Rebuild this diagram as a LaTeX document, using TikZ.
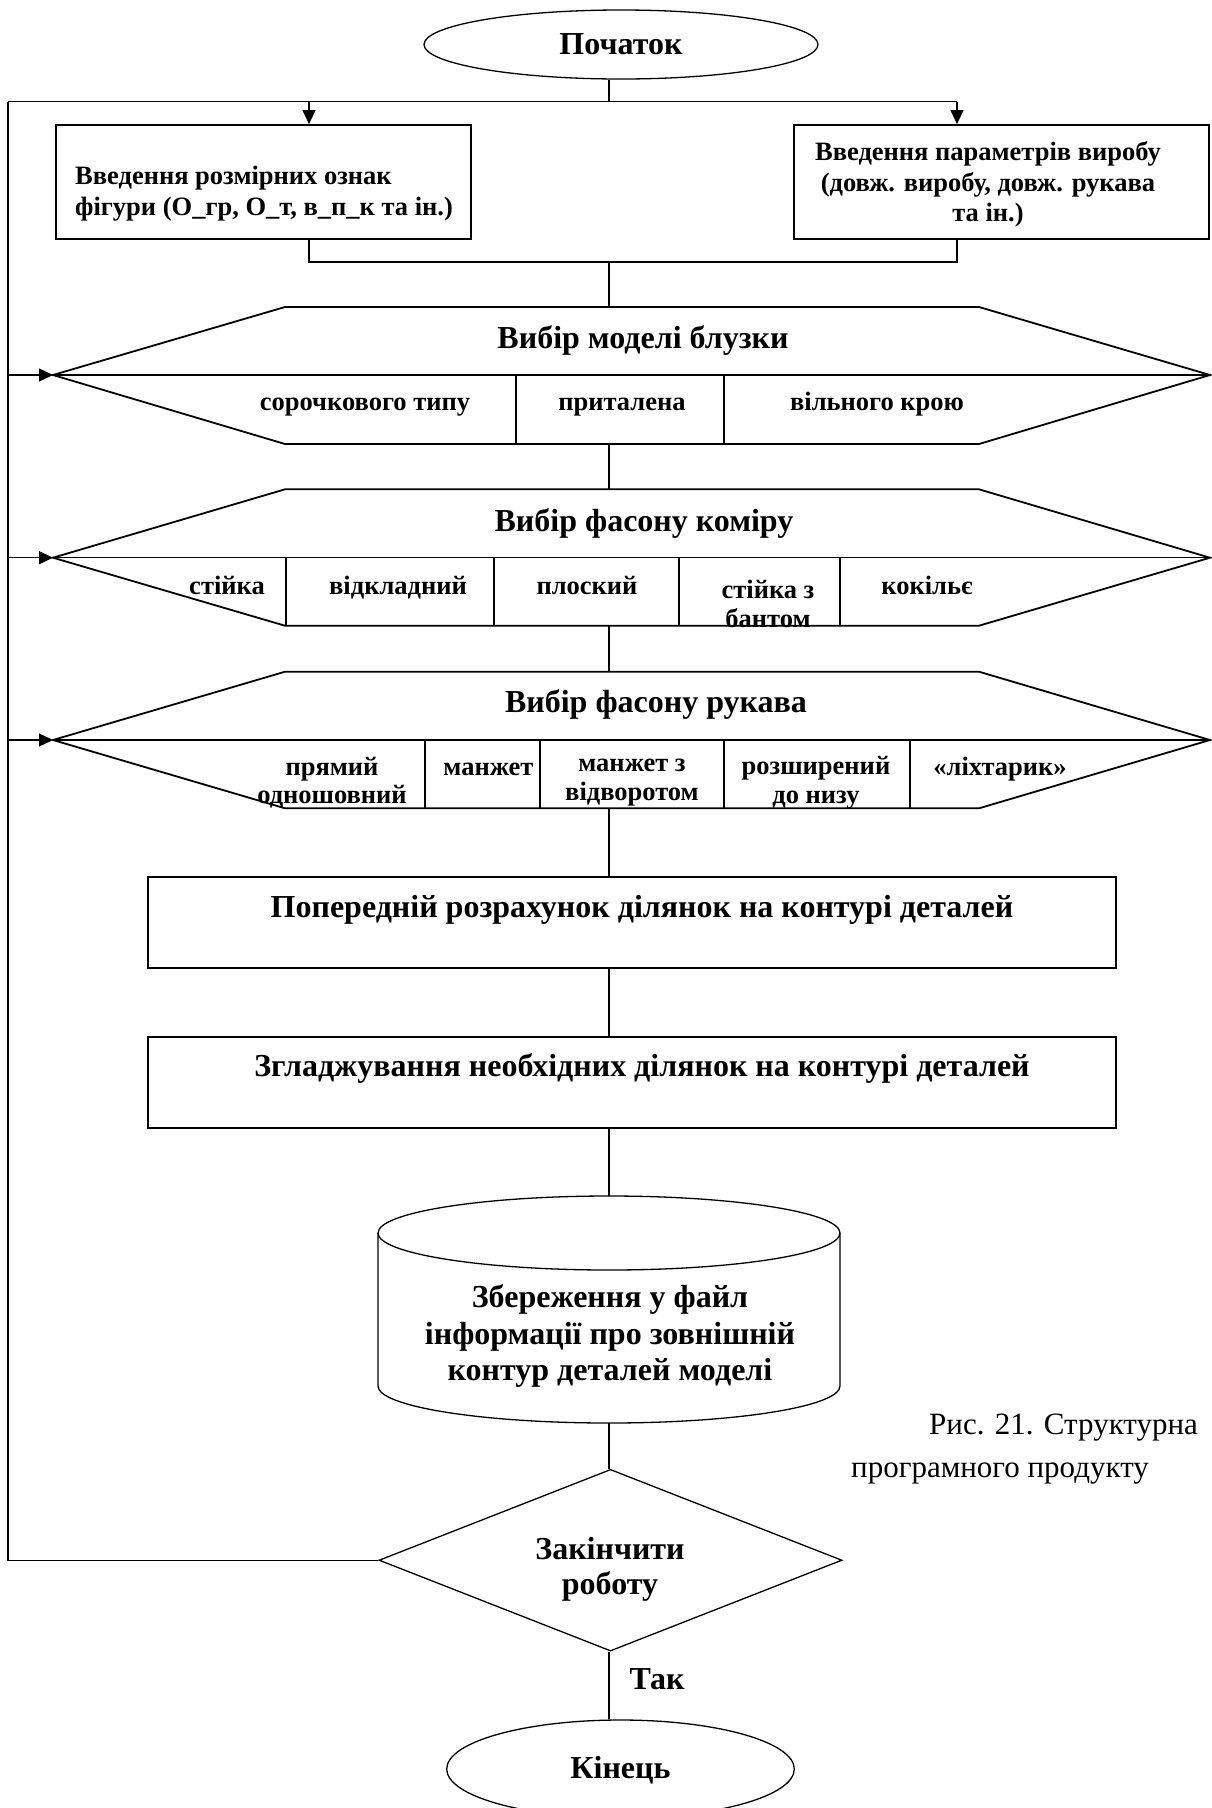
\documentclass[tikz,border=0pt]{standalone}
\usepackage{fontspec}
\setmainfont{Liberation Serif}
\usetikzlibrary{positioning, calc, arrows.meta, shapes.geometric}
\tikzset{
    termnode/.style={ellipse, draw, line width=1.3pt, inner sep=0pt, text height=19pt, text depth=0pt, font=\bfseries\fontsize{32}{36}\selectfont},
    flatnode/.style={rectangle, draw, line width=1.8pt, inner sep=0pt},
    boxtext/.style={inner sep=0pt, font=\bfseries\fontsize{26.5}{30.5}\selectfont},
    bigtext/.style={inner sep=0pt, text height=19pt, text depth=0pt, font=\bfseries\fontsize{32}{36}\selectfont},
    multitext/.style={inner sep=0pt, align=center, font=\bfseries\fontsize{32}{36.7}\selectfont},
    celltext/.style={inner sep=0pt, text height=16pt, text depth=0pt, font=\bfseries\fontsize{26.5}{28.3}\selectfont},
    cellpair/.style={inner sep=0pt, align=center, font=\bfseries\fontsize{26.5}{28.3}\selectfont},
    capnode/.style={anchor=west, inner sep=0pt, text height=18.5pt, text depth=0pt, font=\fontsize{31}{36}\selectfont},
    decnode/.style={diamond, draw, line width=1.3pt, inner sep=0pt, aspect=2.55},
    line/.style={line width=1.3pt},
    hexline/.style={line width=1.8pt},
    arrow/.style={-{Triangle[length=14pt, width=13pt]}, line width=1.3pt},
}
\begin{document}
\begin{tikzpicture}[x=1pt, y=-1pt]
    \useasboundingbox (0,0) rectangle (1211,1808);

    % Початок
    \node[termnode, minimum width=394pt, minimum height=69pt] (start) at (621,44.5) {Початок};

    % Введення даних
    \node[flatnode, minimum width=415pt, minimum height=114pt] (inSize) at (263.3,182) {};
    \node[boxtext, anchor=west, align=left] (inSizeText) at (75,193.5) {Введення розмірних ознак\\фігури (О\_гр, О\_т, в\_п\_к та ін.)};
    \node[flatnode, minimum width=415pt, minimum height=114pt] (inParam) at (1001.5,182) {};
    \node[boxtext, align=center] (inParamText) at (988,184.5) {Введення параметрів виробу\\(довж. виробу, довж. рукава\\та ін.)};

    \coordinate (split) at (609,101.7);
    \coordinate (loopTop) at (8,101.7);
    \coordinate (forkL) at (309,101.7);
    \coordinate (forkR) at (957,101.7);
    \coordinate (joinL) at (309,262);
    \coordinate (join) at (609,262);
    \coordinate (joinR) at (957,262);

    % Вибір моделі
    \coordinate (modelTop) at (609,307);
    \coordinate (modelIn) at (53,375);
    \coordinate (modelBot) at (609,444);
    \draw[hexline] (53,375) -- (285,307) -- (979,307) -- (1210,375) -- (979,444) -- (285,444) -- cycle;
    \draw[line] (53,375) -- (1210,375);
    \draw[hexline] (516,375) -- (516,444);
    \draw[hexline] (724,375) -- (724,444);
    \node[bigtext] (model) at (643,339) {Вибір моделі блузки};
    \node[celltext] (shirt) at (365,402.5) {сорочкового типу};
    \node[celltext] (fitted) at (622,402.5) {приталена};
    \node[celltext] (loose) at (877,402.5) {вільного крою};

    % Вибір коміра
    \coordinate (collarTop) at (609,489.3);
    \coordinate (collarIn) at (53,557.7);
    \coordinate (collarBot) at (609,625.7);
    \draw[hexline] (53,557.7) -- (285,489.3) -- (979,489.3) -- (1210,557.7) -- (979,625.7) -- (285,625.7) -- cycle;
    \draw[line] (53,557.7) -- (1210,557.7);
    \draw[hexline] (286,557.7) -- (286,625.7);
    \draw[hexline] (494,557.7) -- (494,625.7);
    \draw[hexline] (679,557.7) -- (679,625.7);
    \draw[hexline] (840,557.7) -- (840,625.7);
    \node[bigtext] (collar) at (644,521.5) {Вибір фасону коміру};
    \node[celltext] (stand) at (227,586) {стійка};
    \node[celltext] (turn) at (398,586) {відкладний};
    \node[celltext] (flat) at (587,586) {плоский};
    \node[cellpair] (bow) at (768,604) {стійка з\\бантом};
    \node[celltext] (cockle) at (927,586) {кокільє};

    % Вибір рукава
    \coordinate (sleeveTop) at (609,671.7);
    \coordinate (sleeveIn) at (53,740);
    \coordinate (sleeveBot) at (609,808.3);
    \draw[hexline] (53,740) -- (285,671.7) -- (979,671.7) -- (1210,740) -- (979,808.3) -- (285,808.3) -- cycle;
    \draw[line] (53,740) -- (1210,740);
    \draw[hexline] (425,740) -- (425,808.3);
    \draw[hexline] (540,740) -- (540,808.3);
    \draw[hexline] (724,740) -- (724,808.3);
    \draw[hexline] (910,740) -- (910,808.3);
    \node[bigtext] (sleeve) at (656,703) {Вибір фасону рукава};
    \node[cellpair] (straight) at (332,782.7) {прямий\\одношовний};
    \node[celltext] (cuff) at (488.5,767.5) {манжет};
    \node[cellpair] (cuffTurn) at (632,782.7) {манжет з\\відворотом};
    \node[cellpair] (wide) at (816,782.7) {розширений\\до низу};
    \node[celltext] (lantern) at (1000,767.5) {«ліхтарик»};

    % Розрахунок
    \node[flatnode, minimum width=968pt, minimum height=91pt] (calc) at (632,922.2) {};
    \node[bigtext] (calcText) at (642,908) {Попередній розрахунок ділянок на контурі деталей};
    \node[flatnode, minimum width=968pt, minimum height=91pt] (smooth) at (632,1082.2) {};
    \node[bigtext] (smoothText) at (642,1066.5) {Згладжування необхідних ділянок на контурі деталей};

    % Збереження
    \coordinate (storeTop) at (609,1196);
    \coordinate (storeBot) at (609,1423);
    \draw[line] (378,1233) -- (378,1386) arc[start angle=180, end angle=360, x radius=231pt, y radius=37pt] -- (840,1233);
    \draw[line] (609,1233) ellipse [x radius=231pt, y radius=37pt];
    \node[multitext] (store) at (610,1336) {Збереження у файл\\інформації про зовнішній\\контур деталей моделі};

    % Кінець
    \node[decnode, minimum width=463pt, minimum height=181.7pt] (decide) at (610.5,1560.2) {};
    \node[multitext, font=\bfseries\fontsize{32}{35}\selectfont] (decideText) at (610,1569) {Закінчити\\роботу};
    \node[termnode, minimum width=347.6pt, minimum height=98pt] (finish) at (620.5,1769) {Кінець};
    \node[bigtext] (yes) at (657,1680) {Так};

    % Підпис
    \node[capnode] (capA) at (929,1425) {Рис. 21. Структурна};
    \node[capnode] (capB) at (851,1468) {програмного продукту};

    % З'єднання
    \draw[line] (start.south -| split) -- (split);
    \draw[line] (loopTop) -- (forkR);
    \draw[arrow] (forkL) -- (forkL |- inSize.north);
    \draw[arrow] (forkR) -- (forkR |- inParam.north);
    \draw[line] (forkL |- inSize.south) -- (joinL) -- (joinR) -- (forkR |- inParam.south);
    \draw[line] (join) -- (modelTop);
    \draw[line] (modelBot) -- (collarTop);
    \draw[line] (collarBot) -- (sleeveTop);
    \draw[line] (sleeveBot) -- (sleeveBot |- calc.north);
    \draw[line] (calc.south -| split) -- (smooth.north -| split);
    \draw[line] (smooth.south -| split) -- (storeTop);
    \draw[line] (storeBot) -- (storeBot |- decide.north);
    \draw[line] (decide.south -| split) -- (finish.north -| split);
    \draw[line] (decide.west) -| (loopTop);
    \draw[arrow] (loopTop |- modelIn) -- (modelIn);
    \draw[arrow] (loopTop |- collarIn) -- (collarIn);
    \draw[arrow] (loopTop |- sleeveIn) -- (sleeveIn);
\end{tikzpicture}
\end{document}
